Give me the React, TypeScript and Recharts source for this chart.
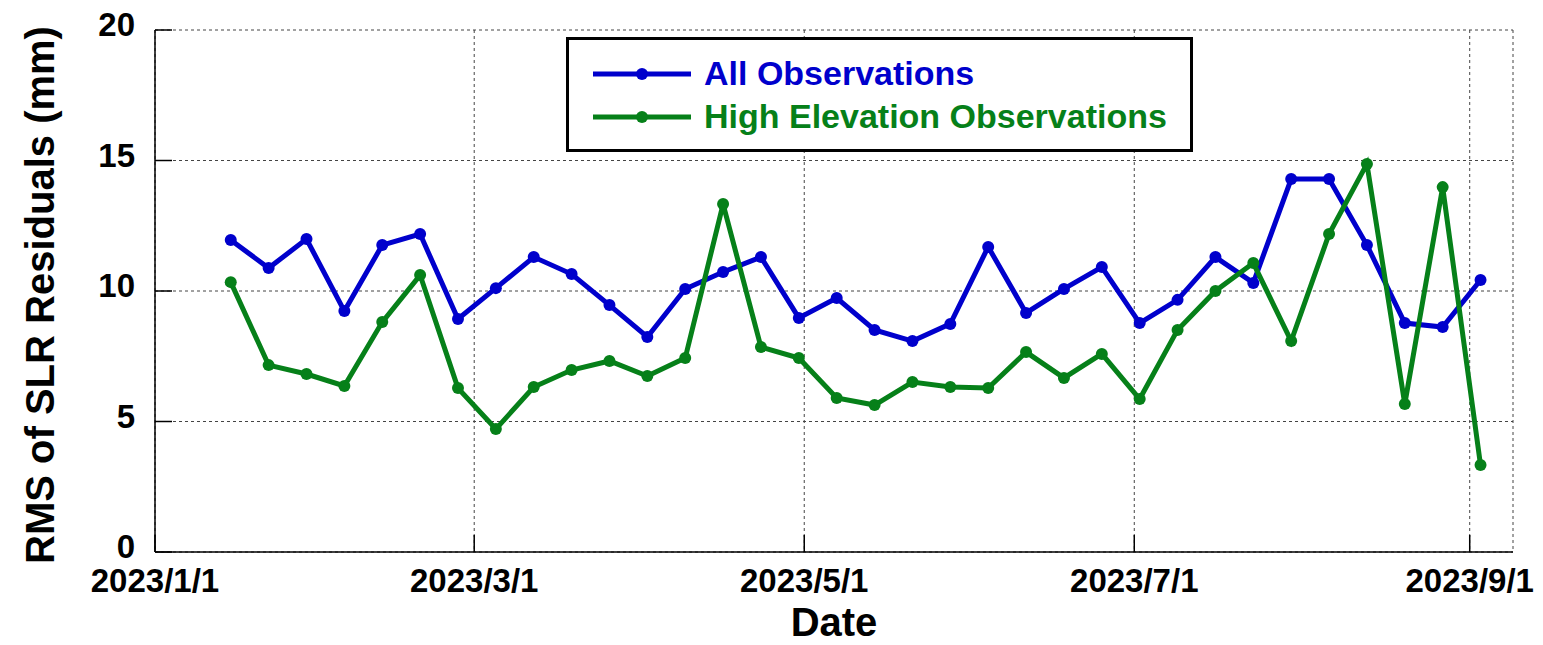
import { CartesianGrid, Legend, Line, LineChart, XAxis, YAxis } from "recharts";

// weekly solutions, RMS in mm
const weeks = [
  "2023-01-15", "2023-01-22", "2023-01-29", "2023-02-05", "2023-02-12", "2023-02-19", "2023-02-26",
  "2023-03-05", "2023-03-12", "2023-03-19", "2023-03-26", "2023-04-02", "2023-04-09", "2023-04-16",
  "2023-04-23", "2023-04-30", "2023-05-07", "2023-05-14", "2023-05-21", "2023-05-28", "2023-06-04",
  "2023-06-11", "2023-06-18", "2023-06-25", "2023-07-02", "2023-07-09", "2023-07-16", "2023-07-23",
  "2023-07-30", "2023-08-06", "2023-08-13", "2023-08-20", "2023-08-27", "2023-09-03",
];
const allObs = [
  11.95, 10.88, 11.99, 9.23, 11.76, 12.18, 8.93, 10.11, 11.3, 10.65, 9.46, 8.24, 10.08, 10.73,
  11.3, 8.97, 9.73, 8.51, 8.08, 8.74, 11.69, 9.16, 10.08, 10.92, 8.77, 9.66, 11.3, 10.31,
  14.29, 14.29, 11.76, 8.77, 8.62, 10.42,
];
const highElev = [
  10.34, 7.16, 6.82, 6.36, 8.81, 10.61, 6.28, 4.71, 6.32, 6.97, 7.32, 6.74, 7.43, 13.33,
  7.85, 7.43, 5.9, 5.63, 6.51, 6.32, 6.28, 7.66, 6.67, 7.59, 5.86, 8.51, 10.0, 11.07,
  8.08, 12.18, 14.87, 5.67, 13.98, 3.33,
];
const dateTicks = ["2023-01-01", "2023-03-01", "2023-05-01", "2023-07-01", "2023-09-01"];
const dateEnd = "2023-09-09";
const rmsTicks = [0, 5, 10, 15, 20];

const BLUE = "#0000cc";
const GREEN = "#068019";
const FONT = "'Liberation Sans', Arial, sans-serif";

const dayOf = (s: string) => {
  const [y, m, d] = s.split("-").map(Number);
  return (Date.UTC(y, m - 1, d) - Date.UTC(2023, 0, 1)) / 86400000;
};
const dayLabel = (day: number) => {
  const dt = new Date(Date.UTC(2023, 0, 1) + day * 86400000);
  return `${dt.getUTCFullYear()}/${dt.getUTCMonth() + 1}/${dt.getUTCDate()}`;
};

const data = weeks.map((w, i) => ({ day: dayOf(w), all: allObs[i], high: highElev[i] }));
const xTicks = dateTicks.map(dayOf);
const xDomain = [0, dayOf(dateEnd)];

const LeftTick = ({ x, y, payload }: any) => (
  <g>
    <line x1={x} x2={x + 17} y1={y} y2={y} stroke="#000" strokeWidth={1.5} />
    <text x={x - 20} y={y + 6} textAnchor="end" fontSize={33} fontWeight="bold" fontFamily={FONT} fill="#000">
      {payload.value}
    </text>
  </g>
);

const RightTick = ({ x, y }: any) => <line x1={x - 16} x2={x} y1={y} y2={y} stroke="#000" strokeWidth={1.5} />;

const BottomTick = ({ x, y, payload }: any) => (
  <g>
    <line x1={x} x2={x} y1={y} y2={y - 17} stroke="#000" strokeWidth={1.5} />
    <text x={x} y={y + 40} textAnchor="middle" fontSize={33} fontWeight="bold" fontFamily={FONT} fill="#000">
      {dayLabel(payload.value)}
    </text>
  </g>
);

const TopTick = ({ x, y }: any) => <line x1={x} x2={x} y1={y} y2={y + 17} stroke="#000" strokeWidth={1.5} />;

const LegendBox = ({ payload }: any) => (
  <div
    style={{
      boxSizing: "border-box",
      width: 627,
      height: 115,
      border: "3px solid #000",
      background: "#fff",
      padding: "12px 0 0 24px",
      fontFamily: FONT,
    }}
  >
    {(payload || []).map((item: any) => (
      <div key={item.value} style={{ display: "flex", alignItems: "center", height: 43 }}>
        <svg width={98} height={16} style={{ marginRight: 13 }}>
          <line x1={0} x2={98} y1={8} y2={8} stroke={item.color} strokeWidth={5} />
          <circle cx={49} cy={8} r={6} fill={item.color} />
        </svg>
        <span style={{ color: item.color, fontSize: 34, fontWeight: "bold", lineHeight: "43px" }}>{item.value}</span>
      </div>
    ))}
  </div>
);

export default function App() {
  return (
    <div style={{ position: "fixed", left: 0, top: 0, background: "#fff" }}>
      <LineChart width={1543} height={645} data={data} margin={{ top: 30, right: 30, bottom: 0, left: 0 }}>
        <CartesianGrid stroke="#444" strokeDasharray="3 3" strokeWidth={1} />
        <XAxis
          dataKey="day"
          type="number"
          domain={xDomain}
          ticks={xTicks}
          interval={0}
          height={93}
          tickSize={0}
          tickMargin={0}
          tick={<BottomTick />}
          axisLine={{ stroke: "#000", strokeWidth: 1.5 }}
          label={{
            content: ({ viewBox }: any) => (
              <text
                x={viewBox.x + viewBox.width / 2}
                y={viewBox.y + 84}
                textAnchor="middle"
                fontSize={40}
                fontWeight="bold"
                fontFamily={FONT}
                fill="#000"
              >
                Date
              </text>
            ),
          }}
        />
        <XAxis
          xAxisId="top"
          orientation="top"
          dataKey="day"
          type="number"
          domain={xDomain}
          ticks={xTicks}
          interval={0}
          height={0}
          tickSize={0}
          tickMargin={0}
          tick={<TopTick />}
          axisLine={{ stroke: "#000", strokeWidth: 1.5 }}
        />
        <YAxis
          domain={[0, 20]}
          ticks={rmsTicks}
          interval={0}
          width={155}
          tickSize={0}
          tickMargin={0}
          tick={<LeftTick />}
          axisLine={{ stroke: "#000", strokeWidth: 1.5 }}
          label={{
            content: ({ viewBox }: any) => {
              const cx = viewBox.x + 40;
              const cy = viewBox.y + viewBox.height / 2 + 4;
              return (
                <text
                  x={cx}
                  y={cy}
                  transform={`rotate(-90 ${cx} ${cy})`}
                  textAnchor="middle"
                  dominantBaseline="central"
                  fontSize={40}
                  fontWeight="bold"
                  fontFamily={FONT}
                  fill="#000"
                >
                  RMS of SLR Residuals (mm)
                </text>
              );
            },
          }}
        />
        <YAxis
          yAxisId="right"
          orientation="right"
          domain={[0, 20]}
          ticks={rmsTicks}
          interval={0}
          width={0}
          tickSize={0}
          tickMargin={0}
          tick={<RightTick />}
          axisLine={{ stroke: "#000", strokeWidth: 1.5 }}
        />
        <Legend
          layout="vertical"
          align="center"
          verticalAlign="middle"
          content={<LegendBox />}
          wrapperStyle={{ left: 566, top: 37, width: 627, height: 115 }}
        />
        <Line
          name="All Observations"
          dataKey="all"
          stroke={BLUE}
          strokeWidth={5}
          dot={{ r: 6, fill: BLUE, stroke: BLUE, strokeWidth: 0 }}
          isAnimationActive={false}
        />
        <Line
          name="High Elevation Observations"
          dataKey="high"
          stroke={GREEN}
          strokeWidth={5}
          dot={{ r: 6, fill: GREEN, stroke: GREEN, strokeWidth: 0 }}
          isAnimationActive={false}
        />
      </LineChart>
    </div>
  );
}
